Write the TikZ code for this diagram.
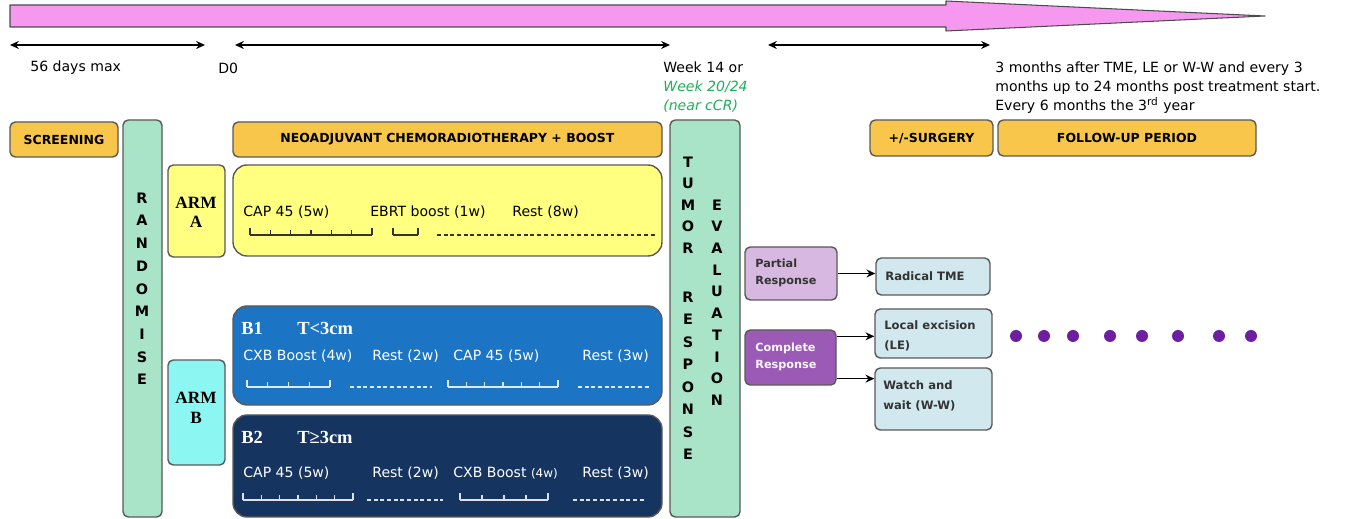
\documentclass[tikz,border=0pt]{standalone}
\usepackage{fontspec}
\setmainfont{DejaVu Sans}
\newfontfamily\armfont{Liberation Serif}
\usetikzlibrary{arrows.meta,calc,positioning,fit}
\definecolor{phaseorange}{RGB}{247,198,74}
\definecolor{mint}{RGB}{170,228,200}
\definecolor{armyellow}{RGB}{255,255,128}
\definecolor{armcyan}{RGB}{140,246,242}
\definecolor{bblue}{RGB}{27,117,196}
\definecolor{bnavy}{RGB}{22,52,96}
\definecolor{arrowpink}{RGB}{246,152,240}
\definecolor{lavender}{RGB}{214,184,224}
\definecolor{respurple}{RGB}{155,90,182}
\definecolor{paleblue}{RGB}{208,232,238}
\definecolor{dotpurple}{RGB}{110,30,160}
\definecolor{weekgreen}{RGB}{30,175,90}
\tikzset{
  box/.style={draw=black!65,line width=0.8pt,rounded corners=3pt,inner sep=0pt},
  phase/.style={box,fill=phaseorange},
  phasetxt/.style={inner sep=0pt,font=\fontsize{7.1}{8}\selectfont\bfseries},
  vbar/.style={box,fill=mint},
  vlet/.style={font=\fontsize{8.2}{9}\selectfont\bfseries,inner sep=0pt},
  armtxt/.style={inner sep=0pt,align=center,font=\armfont\fontsize{9.8}{11}\selectfont\bfseries},
  resptxt/.style={anchor=west,inner sep=0pt,align=left,font=\fontsize{6.4}{9.5}\selectfont\bfseries},
  surg/.style={box,fill=paleblue},
  surgtxt/.style={anchor=west,inner sep=0pt,align=left,text=black!80,font=\fontsize{6.6}{11}\selectfont\bfseries},
  wk/.style={anchor=west,inner sep=0pt},
  bhead/.style={anchor=west,inner sep=0pt,text=white,font=\armfont\fontsize{10.5}{12}\selectfont\bfseries},
  rest/.style={dash pattern=on 2.2pt off 1.6pt,line width=0.6pt}
}
% week ruler: x from, x to, y, number of weeks
\newcommand{\weekruler}[4]{%
  \draw[line width=0.6pt] (#1,#3) -- (#2,#3);
  \draw[line width=0.6pt] (#1,#3) -- ++(0,-7) (#2,#3) -- ++(0,-7);
  \foreach \k in {1,...,#4} \draw[line width=0.6pt] ({#1+(#2-#1)*\k/(#4+1)},#3) -- ++(0,-5);
}
\begin{document}
\begin{tikzpicture}[x=0.02cm,y=-0.02cm,>={Stealth[length=5pt,width=4.5pt]},line join=round,font=\fontsize{8}{9.6}\selectfont]
\useasboundingbox (0,0) rectangle (1347,519);
% --- timeline
\draw[draw=black!70,fill=arrowpink,line width=0.6pt] (10,5) -- (946,5) -- (946,1) -- (1265,16) -- (946,31) -- (946,27) -- (10,27) -- cycle;
\coordinate (scr0) at (10,45); \coordinate (scr1) at (205,45);
\coordinate (neo0) at (235,45); \coordinate (neo1) at (670,45);
\coordinate (fu0) at (768,45); \coordinate (fu1) at (990,45);
\draw[<->,line width=0.8pt] (scr0) -- (scr1);
\draw[<->,line width=0.8pt] (neo0) -- (neo1);
\draw[<->,line width=0.8pt] (fu0) -- (fu1);
\node[wk] (days) at (30,68) {56 days max};
\node[wk] (d0) at (218,68) {D0};
\node[anchor=north west,inner sep=0pt,align=left] (week) at (663,61) {Week 14 or\\[1.4pt]\textcolor{weekgreen}{\itshape Week 20/24}\\[1.4pt]\textcolor{weekgreen}{\itshape (near cCR)}};
\node[anchor=north west,inner sep=0pt,align=left] (fuinfo) at (995,61) {3 months after TME, LE or W-W and every 3\\[1.4pt]months up to 24 months post treatment start.\\[1.4pt]Every 6 months the 3\textsuperscript{rd} year};
% --- phase headers
\node[phase,fit={(10,122) (118,157)}] (screening) {};
\node[phasetxt] (screeningtxt) at (screening.center) {SCREENING};
\node[phase,fit={(233,122) (662,157)}] (neo) {};
\node[phasetxt] (neotxt) at (neo.center) {NEOADJUVANT CHEMORADIOTHERAPY + BOOST};
\node[phase,fit={(870,120) (993,156)}] (surgery) {};
\node[phasetxt] (surgerytxt) at (surgery.center) {+/-SURGERY};
\node[phase,fit={(998,120) (1256,156)}] (followup) {};
\node[phasetxt] (followuptxt) at (followup.center) {FOLLOW-UP PERIOD};
% --- randomise and evaluation bars
\node[vbar,fit={(123,120) (162,517)}] (rand) {};
\foreach \l [count=\i] in {R,A,N,D,O,M,I,S,E}
  \node[vlet] (rand\i) at (142,{198+(\i-1)*22.7}) {\l};
\node[vbar,fit={(670,120) (740,517)}] (eval) {};
\foreach \l [count=\i] in {T,U,M,O,R}
  \node[vlet] (tum\i) at (688,{162+(\i-1)*21.5}) {\l};
\foreach \l [count=\i] in {R,E,S,P,O,N,S,E}
  \node[vlet] (res\i) at (688,{297+(\i-1)*22.5}) {\l};
\foreach \l [count=\i] in {E,V,A,L,U,A,T,I,O,N}
  \node[vlet] (eva\i) at (717,{205+(\i-1)*21.7}) {\l};
% --- arm A
\node[box,fill=armyellow,fit={(168,165) (225,257)}] (armA) {};
\node[armtxt] (armAtxt) at (196,212) {ARM\\A};
\node[box,fill=armyellow,rounded corners=8pt,fit={(233,165) (662,256)}] (boxA) {};
\node[wk] (capA) at (243,212) {CAP 45 (5w)};
\node[wk] (ebrtA) at (370,212) {EBRT boost (1w)};
\node[wk] (restA) at (512,212) {Rest (8w)};
\begin{scope}[black!80]
\weekruler{250}{372}{235}{5}
\weekruler{393}{418}{235}{0}
\draw[rest] (437,235) -- (655,235);
\end{scope}
% --- arm B
\node[box,fill=armcyan,fit={(168,360) (225,465)}] (armB) {};
\node[armtxt] (armBtxt) at (196,408) {ARM\\B};
\node[box,fill=bblue,rounded corners=8pt,fit={(233,306) (662,405)}] (boxB1) {};
\node[bhead] (b1) at (241,328) {B1};
\node[bhead] (b1size) at (297,328) {T<3cm};
\begin{scope}[every node/.append style={text=white}]
\node[wk] (cxbB1) at (243,356) {CXB Boost (4w)};
\node[wk] (rest1B1) at (372,356) {Rest (2w)};
\node[wk] (capB1) at (453,356) {CAP 45 (5w)};
\node[wk] (rest2B1) at (582,356) {Rest (3w)};
\end{scope}
\begin{scope}[white!85!bblue]
\weekruler{247}{330}{387}{3}
\draw[rest] (350,387) -- (432,387);
\weekruler{448}{558}{387}{5}
\draw[rest] (578,387) -- (650,387);
\end{scope}
\node[box,fill=bnavy,rounded corners=8pt,fit={(233,415) (662,517)}] (boxB2) {};
\node[bhead] (b2) at (241,437) {B2};
\node[bhead] (b2size) at (297,437) {T≥3cm};
\begin{scope}[every node/.append style={text=white}]
\node[wk] (capB2) at (243,473) {CAP 45 (5w)};
\node[wk] (rest1B2) at (372,473) {Rest (2w)};
\node[wk] (cxbB2) at (453,473) {CXB Boost {\fontsize{6.8}{8}\selectfont(4w)}};
\node[wk] (rest2B2) at (582,473) {Rest (3w)};
\end{scope}
\begin{scope}[white!85!bnavy]
\weekruler{243}{353}{500}{5}
\draw[rest] (367,500) -- (443,500);
\weekruler{460}{548}{500}{3}
\draw[rest] (573,500) -- (645,500);
\end{scope}
% --- response and surgery
\node[box,fill=lavender,fit={(745,247) (837,300)}] (partial) {};
\node[resptxt,text=black!80] (partialtxt) at (755,273) {Partial\\Response};
\node[box,fill=respurple,fit={(745,330) (836,385)}] (complete) {};
\node[resptxt,text=white!90!lavender] (completetxt) at (755,357) {Complete\\Response};
\node[surg,fit={(876,258) (990,295)}] (radical) {};
\node[surgtxt] (radicaltxt) at (885,276) {Radical TME};
\node[surg,fit={(875,309) (992,358)}] (local) {};
\node[surgtxt] (localtxt) at (884,336) {Local excision\\(LE)};
\node[surg,fit={(875,368) (992,430)}] (watch) {};
\node[surgtxt] (watchtxt) at (883,396) {Watch and\\wait (W-W)};
\draw[->,line width=0.8pt] (partial.east) -- (partial.east -| radical.west);
\coordinate (cl) at ([yshift=-0.14cm]complete.north east);
\coordinate (cw) at ([yshift=0.14cm]complete.south east);
\draw[->,line width=0.8pt] (cl) -- (cl -| local.west);
\draw[->,line width=0.8pt] (cw) -- (cw -| watch.west);
\foreach \dx in {1016,1044,1073,1110,1142,1178,1219,1251}
  \fill[dotpurple] (\dx,336) circle (0.12cm);
\end{tikzpicture}
\end{document}
